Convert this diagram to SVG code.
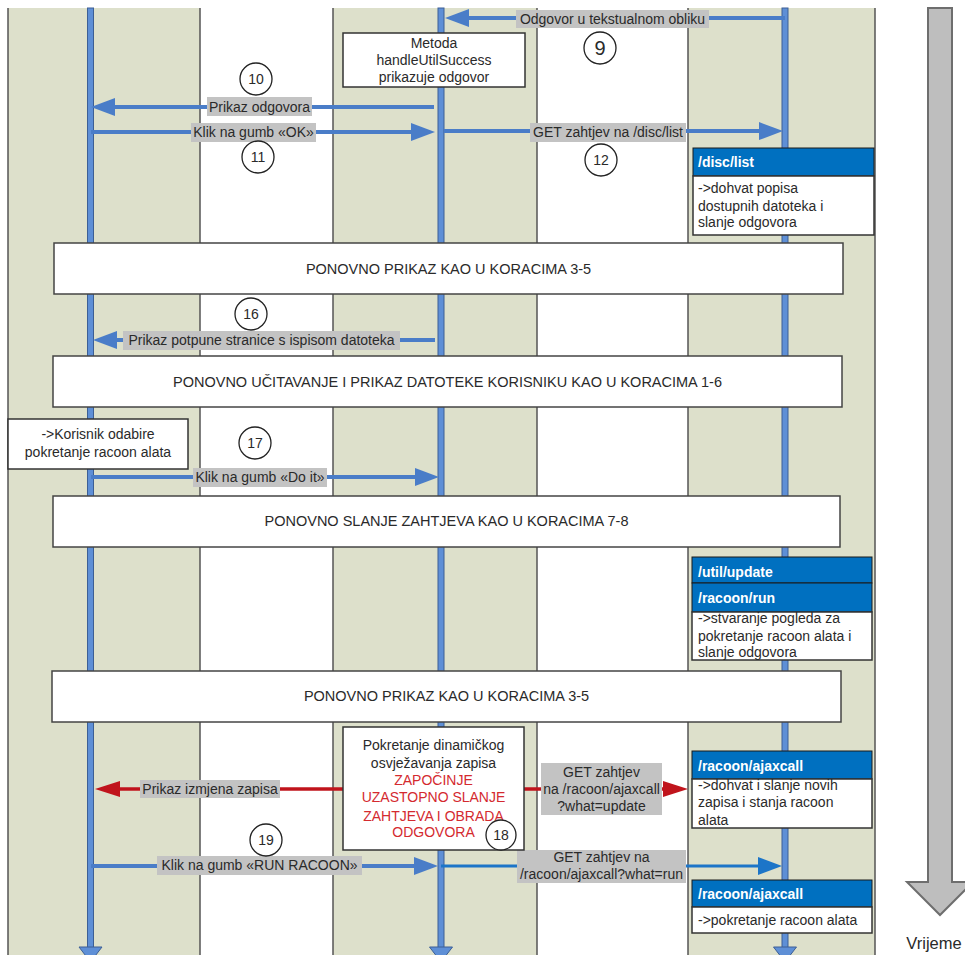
<svg xmlns="http://www.w3.org/2000/svg" width="965" height="955" viewBox="0 0 965 955">
  <defs>
    <style>
      text { font-family: "Liberation Sans", Arial, sans-serif; font-size: 14px; fill: #2a2a2a; }
      .lane-g { fill: #dde0cb; }
      .lane-w { fill: #ffffff; }
      .divider { stroke: #555555; stroke-width: 1.5; }
      .lifeline { fill: #5e8fd6; stroke: #3c5f95; stroke-width: 1; }
      .msg { stroke: #4a7dc8; stroke-width: 4; fill: none; }
      .msg-red { stroke: #c0141c; stroke-width: 3.5; fill: none; }
      .msg-run { stroke: #1c75c8; stroke-width: 3; fill: none; }
      .lbl { fill: #c3c3c3; }
      .ctr { text-anchor: middle; }
      .note { fill: #ffffff; stroke: #333333; stroke-width: 1.5; }
      .band { fill: #ffffff; stroke: #444444; stroke-width: 1.5; }
      .band-text { font-size: 14.5px; text-anchor: middle; }
      .num { fill: #ffffff; stroke: #222222; stroke-width: 1.3; }
      .hdr { fill: #0070c0; stroke: #1a1a1a; stroke-width: 1; }
      .hdr-text { fill: #ffffff; font-weight: bold; }
      .red { fill: #d42a2f; }
    </style>
    <marker id="head-blue" markerUnits="userSpaceOnUse" markerWidth="24" markerHeight="18" refX="4" refY="9" orient="auto">
      <path d="M0,0 L24,9 L0,18 z" fill="#4a7dc8"/>
    </marker>
    <marker id="head-red" markerUnits="userSpaceOnUse" markerWidth="25" markerHeight="16" refX="4" refY="8" orient="auto">
      <path d="M0,0 L25,8 L0,16 z" fill="#c0141c"/>
    </marker>
    <marker id="head-run" markerUnits="userSpaceOnUse" markerWidth="24" markerHeight="18" refX="4" refY="9" orient="auto">
      <path d="M0,0 L24,9 L0,18 z" fill="#1c75c8"/>
    </marker>
  </defs>

  <!-- swimlanes -->
  <g id="lanes">
    <rect class="lane-g" x="8" y="8" width="192" height="950"/>
    <rect class="lane-w" x="200" y="8" width="133" height="950"/>
    <rect class="lane-g" x="333" y="8" width="204" height="950"/>
    <rect class="lane-w" x="537" y="8" width="151" height="950"/>
    <rect class="lane-g" x="688" y="8" width="187" height="950"/>
    <line class="divider" x1="8" y1="8" x2="8" y2="958"/>
    <line class="divider" x1="200" y1="8" x2="200" y2="958"/>
    <line class="divider" x1="333" y1="8" x2="333" y2="958"/>
    <line class="divider" x1="537" y1="8" x2="537" y2="958"/>
    <line class="divider" x1="688" y1="8" x2="688" y2="958"/>
    <line class="divider" x1="875" y1="8" x2="875" y2="958"/>
  </g>

  <!-- lifelines -->
  <g id="lifelines">
    <rect class="lifeline" x="87.5" y="8" width="6" height="942"/>
    <polygon class="lifeline" points="79,947 102,947 90.5,962"/>
    <rect class="lifeline" x="438" y="8" width="6" height="942"/>
    <polygon class="lifeline" points="429.5,947 452.5,947 441,962"/>
    <rect class="lifeline" x="782" y="8" width="6" height="942"/>
    <polygon class="lifeline" points="773.5,947 796.5,947 785,962"/>
  </g>

  <!-- time axis -->
  <g id="time-axis">
    <polygon points="928,8 952,8 952,882 973,882 940,915 907,882 928,882" fill="#bebebe" stroke="#6e6e6e" stroke-width="2"/>
    <text x="934" y="949" class="ctr" style="font-size:16.5px">Vrijeme</text>
  </g>

  <!-- messages -->
  <g id="connectors">
    <line class="msg" x1="785" y1="18" x2="465" y2="18" marker-end="url(#head-blue)"/>
    <line class="msg" x1="434" y1="107" x2="111" y2="107" marker-end="url(#head-blue)"/>
    <line class="msg" x1="91" y1="132" x2="415" y2="132" marker-end="url(#head-blue)"/>
    <line class="msg" x1="444" y1="131" x2="763" y2="131" marker-end="url(#head-blue)"/>
    <line class="msg" x1="435" y1="340" x2="113" y2="340" marker-end="url(#head-blue)"/>
    <line class="msg" x1="91" y1="477" x2="419" y2="477" marker-end="url(#head-blue)"/>
    <line class="msg-red" x1="343" y1="789" x2="116" y2="789" marker-end="url(#head-red)"/>
    <line class="msg-red" x1="524" y1="789" x2="667" y2="789" marker-end="url(#head-red)"/>
    <line class="msg" x1="91" y1="866" x2="418" y2="866" marker-end="url(#head-blue)"/>
    <line class="msg-run" x1="441" y1="866" x2="762" y2="866" marker-end="url(#head-run)"/>

    <rect class="lbl" x="516" y="10" width="193" height="18"/>
    <text x="612.5" y="23.5" class="ctr">Odgovor u tekstualnom obliku</text>
    <rect class="lbl" x="207" y="97" width="105" height="19"/>
    <text x="259.5" y="111.5" class="ctr">Prikaz odgovora</text>
    <rect class="lbl" x="191" y="123" width="125" height="19"/>
    <text x="253.5" y="137" class="ctr">Klik na gumb «OK»</text>
    <rect class="lbl" x="530" y="123" width="156" height="19"/>
    <text x="608" y="137" class="ctr">GET zahtjev na /disc/list</text>
    <rect class="lbl" x="123" y="331" width="277" height="19"/>
    <text x="261.5" y="345" class="ctr">Prikaz potpune stranice s ispisom datoteka</text>
    <rect class="lbl" x="193" y="468" width="134" height="19"/>
    <text x="260" y="482" class="ctr">Klik na gumb «Do it»</text>
    <rect class="lbl" x="140" y="780" width="140" height="18"/>
    <text x="210" y="794" class="ctr">Prikaz izmjena zapisa</text>
    <rect class="lbl" x="541" y="763" width="121" height="52"/>
    <text x="601.5" y="777" class="ctr">GET zahtjev</text>
    <text x="601.5" y="794" class="ctr">na /racoon/ajaxcall</text>
    <text x="601.5" y="811" class="ctr">?what=update</text>
    <rect class="lbl" x="157" y="856" width="205" height="19"/>
    <text x="259.5" y="870" class="ctr">Klik na gumb «RUN RACOON»</text>
    <rect class="lbl" x="517" y="850" width="169" height="33"/>
    <text x="601.5" y="862" class="ctr">GET zahtjev na</text>
    <text x="601.5" y="879" class="ctr">/racoon/ajaxcall?what=run</text>
  </g>

  <!-- step numbers -->
  <g id="step-9"><circle class="num" cx="600" cy="48" r="16"/><text x="600" y="55" class="ctr" style="font-size:20px">9</text></g>
  <g id="step-10"><circle class="num" cx="256" cy="79" r="16"/><text x="256" y="84" class="ctr">10</text></g>
  <g id="step-11"><circle class="num" cx="258" cy="157" r="16"/><text x="258" y="162" class="ctr">11</text></g>
  <g id="step-12"><circle class="num" cx="601" cy="160" r="16"/><text x="601" y="165" class="ctr">12</text></g>
  <g id="step-16"><circle class="num" cx="251" cy="314" r="16"/><text x="251" y="319" class="ctr">16</text></g>
  <g id="step-17"><circle class="num" cx="255" cy="443" r="16"/><text x="255" y="448" class="ctr">17</text></g>
  <g id="step-19"><circle class="num" cx="266" cy="840" r="16"/><text x="266" y="845" class="ctr">19</text></g>

  <!-- client-side notes -->
  <g id="note-handle-success">
    <rect class="note" x="343" y="33" width="182" height="54"/>
    <text x="434" y="48" class="ctr">Metoda</text>
    <text x="434" y="65" class="ctr">handleUtilSuccess</text>
    <text x="434" y="82" class="ctr">prikazuje odgovor</text>
  </g>
  <g id="note-user-choice">
    <rect class="note" x="8" y="419" width="180" height="50"/>
    <text x="98" y="439" class="ctr">-&gt;Korisnik odabire</text>
    <text x="98" y="457" class="ctr">pokretanje racoon alata</text>
  </g>
  <g id="note-dynamic-refresh">
    <rect class="note" x="343" y="727" width="181" height="123"/>
    <text x="433.5" y="750" class="ctr">Pokretanje dinamičkog</text>
    <text x="433.5" y="768" class="ctr">osvježavanja zapisa</text>
    <text x="433.5" y="785" class="ctr red">ZAPOČINJE</text>
    <text x="433.5" y="802" class="ctr red">UZASTOPNO SLANJE</text>
    <text x="433.5" y="821" class="ctr red">ZAHTJEVA I OBRADA</text>
    <text x="433.5" y="837" class="ctr red">ODGOVORA</text>
    <circle class="num" cx="501" cy="835" r="15"/>
    <text x="501" y="840" class="ctr">18</text>
  </g>

  <!-- repeated-step bands -->
  <g id="band-display-1">
    <rect class="band" x="54" y="243" width="789" height="51"/>
    <text x="448.5" y="274" class="band-text">PONOVNO PRIKAZ KAO U KORACIMA 3-5</text>
  </g>
  <g id="band-reload">
    <rect class="band" x="53" y="356" width="789" height="51"/>
    <text x="447.5" y="387" class="band-text">PONOVNO UČITAVANJE I PRIKAZ DATOTEKE KORISNIKU KAO U KORACIMA 1-6</text>
  </g>
  <g id="band-resend">
    <rect class="band" x="53" y="496" width="787" height="51"/>
    <text x="446.5" y="526" class="band-text">PONOVNO SLANJE ZAHTJEVA KAO U KORACIMA 7-8</text>
  </g>
  <g id="band-display-2">
    <rect class="band" x="52" y="671" width="789" height="51"/>
    <text x="446.5" y="701" class="band-text">PONOVNO PRIKAZ KAO U KORACIMA 3-5</text>
  </g>

  <!-- server handlers -->
  <g id="handler-disc-list">
    <rect class="hdr" x="693" y="148" width="181" height="28"/>
    <text x="698" y="167" class="hdr-text">/disc/list</text>
    <rect class="note" x="693" y="176" width="181" height="59"/>
    <text x="698" y="193">-&gt;dohvat popisa</text>
    <text x="698" y="211">dostupnih datoteka i</text>
    <text x="698" y="227">slanje odgovora</text>
  </g>
  <g id="handler-racoon-run">
    <rect class="hdr" x="692" y="557" width="180" height="26"/>
    <text x="698" y="577" class="hdr-text">/util/update</text>
    <rect class="hdr" x="692" y="583" width="180" height="29"/>
    <text x="698" y="603" class="hdr-text">/racoon/run</text>
    <rect class="note" x="692" y="612" width="180" height="48"/>
    <text x="698" y="623">-&gt;stvaranje pogleda za</text>
    <text x="698" y="641">pokretanje racoon alata i</text>
    <text x="698" y="657">slanje odgovora</text>
  </g>
  <g id="handler-ajax-update">
    <rect class="hdr" x="692" y="751" width="180" height="28"/>
    <text x="698" y="771" class="hdr-text">/racoon/ajaxcall</text>
    <rect class="note" x="692" y="779" width="180" height="49"/>
    <text x="698" y="790">-&gt;dohvat i slanje novih</text>
    <text x="698" y="807">zapisa i stanja racoon</text>
    <text x="698" y="825">alata</text>
  </g>
  <g id="handler-ajax-run">
    <rect class="hdr" x="692" y="880" width="180" height="27"/>
    <text x="698" y="899" class="hdr-text">/racoon/ajaxcall</text>
    <rect class="note" x="692" y="907" width="180" height="26"/>
    <text x="698" y="925">-&gt;pokretanje racoon alata</text>
  </g>
</svg>
